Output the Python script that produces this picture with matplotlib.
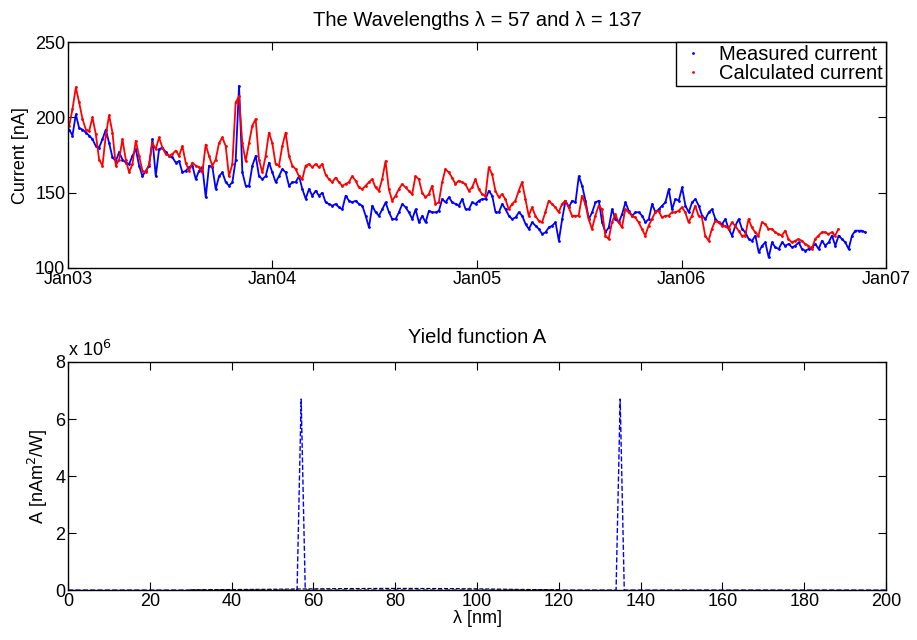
import numpy as np
import pandas as pd
import matplotlib
matplotlib.use("Agg")
import matplotlib.pyplot as plt
import matplotlib.dates as mdates
from matplotlib.ticker import FuncFormatter

plt.rcParams['font.family'] = ['Liberation Sans', 'DejaVu Sans']

# Measured current [nA], roughly every 6 days from early Jan 2003
measured = [
    192, 188, 202, 193, 192, 190, 188, 185.6, 181, 180, 185.6, 192, 183, 173.5, 171, 177, 172,
    170, 169, 174.5, 179, 168, 161, 164.6, 168, 185.6, 161, 179, 180, 177, 174.5, 173.5, 170,
    171, 163.5, 164.6, 167, 168, 159, 164.6, 167, 147, 168, 167, 152.4, 161, 163.5, 157, 154.6,
    157, 172, 221, 163.5, 154.6, 154.6, 168, 174.5, 161, 159, 161, 170, 163.5, 157, 161, 165.7,
    163.5, 154.6, 157, 157, 161, 152.4, 146, 152.4, 148, 151.3, 148, 150, 143.6, 142.5, 141.4,
    142.5, 140.3, 139, 148, 144.7, 143.6, 144.7, 142.5, 141.4, 134.7, 127, 141.4, 137, 134.7,
    139, 143.6, 137, 132.5, 132.5,
    137, 142.5, 140.3, 137, 132.5, 139, 130.3, 134.7, 130.3, 138, 137, 137, 138, 145.8, 143.6,
    147, 143.6, 142.5, 141.4, 145.8, 139, 139, 143.6, 142.5, 144.7, 145.8, 145.8, 151.3, 148,
    137, 137, 142.5, 139, 134.7, 132.5, 133.6, 137, 134.7, 129.2, 125.9, 130.3, 128.1, 125.9,
    122.6, 123.7, 127, 128.1, 130.3, 118.1,
    132.5, 144.7, 140.3, 144.7, 143.6, 161, 154.6, 144.7, 132.5, 137, 143.6, 144.7, 130.3,
    123.7, 127, 139, 132.5, 130.3, 135.8, 143.6, 138, 134.7, 137, 137, 134.7, 130.3, 132.5,
    142.5, 137, 139, 141.4, 143.6, 152.4, 139, 145.8, 144.7, 153.5, 141.4, 137, 143.6, 145.8,
    141.4, 134.7, 132.5, 137, 139, 132.5, 130.3, 129.2,
    132.5, 125.9, 121.5, 128.1, 132.5, 125.9, 123.7, 119.2, 118.1, 121.5, 110.4, 114.8, 117,
    107, 117, 113.7, 112.6, 117, 114.8, 116, 113.7, 114.8, 117, 112.6, 111.5, 112.6, 113.7,
    116, 112.6, 118.1, 114.8, 117, 121.5, 114.8, 121.5, 119.2, 117, 112.6, 121.5, 124.8,
    124.8, 124.8, 123.7,
]

# Calculated current [nA]
calculated = [
    194.5, 205.5, 220, 210, 199, 192, 191, 200, 189, 172, 168, 188, 201.5, 190, 168, 172,
    185.6, 172, 163.5, 169, 184.5, 174.5, 164.6, 163.5, 169, 183, 179, 186.7, 180, 175.7,
    174.5, 175.7, 178, 174.5, 181, 170, 164.6, 170, 168, 167, 163.5, 182, 174.5, 168, 172,
    183, 186.7, 181, 161,
    169, 210, 214, 183, 171, 183, 194.5, 199, 172, 163.5, 174.5, 190, 183, 169, 168, 181, 190,
    174.5, 168, 165.7, 161, 159, 168, 169, 167, 169, 167, 169, 162, 159, 157, 160, 157, 154.6,
    155.8, 157, 161, 158, 153.5, 152.4, 154.6, 157, 159, 153.5, 151.3, 159, 171, 152.4, 144.7,
    148,
    152.4, 155.8, 153.5, 151.3, 149, 161, 159, 150, 147, 149, 154.6, 142.5, 143.6, 157, 165.7,
    163.5, 160, 155.8, 158, 157, 155.8, 151.3, 153.5, 159, 152.4, 149, 148, 166.8, 162.4,
    151.3, 147, 149, 145.8, 139, 142.5, 144.7, 151.3, 157, 145.8, 134.7, 140.3, 134.7, 131.4,
    130.3, 137, 144.7, 142.5, 140.3, 137,
    142.5, 144.7, 140.3, 134.7, 134.7, 134.7, 148, 142.5, 132.5, 125.9, 134.7, 141.4, 139,
    121.5, 119.2, 130.3, 135.8, 130.3, 127, 139, 137, 134.7, 133.6, 130.3, 125.9, 121.5,
    128.1, 132.5, 137, 138, 133.6, 134.7, 134.7, 137, 137, 138, 140.3, 137, 130.3, 134.7,
    141.4, 134.7, 133.6, 121.5, 118.1, 125.9, 131.4, 130.3, 128.1,
    128.1, 125.9, 130.3, 128.1, 124.8, 121.5, 121.5, 132.5, 127, 123.7, 121.5, 130.3, 129.2,
    125.9, 125.9, 123.7, 122.6, 121.5, 124.8, 119.2, 117, 118.1, 119.2, 118.1, 116, 114.8,
    112.6, 119.2, 121.5, 123.7, 123.7, 122.6, 123.7, 121.5, 125.9,
]

start = pd.Timestamp('2003-01-03')
meas_dates = start + pd.to_timedelta(np.linspace(0, 1422, len(measured)), unit='D')
calc_dates = start + pd.to_timedelta(np.linspace(0, 1374, len(calculated)), unit='D')

# Yield function A [nAm^2/W] vs wavelength
wl_blue = [0, 56, 57, 58, 134, 135, 136, 200]
A_blue = [0, 0, 6.7e6, 0, 0, 6.7e6, 0, 0]
wl_black = [30, 40, 50, 60, 70, 80, 90, 100, 110, 120]
A_black = [0.01e6, 0.02e6, 0.03e6, 0.045e6, 0.055e6, 0.06e6, 0.055e6, 0.045e6, 0.025e6, 0.01e6]

fig = plt.figure(figsize=(9.17, 6.4), dpi=100)
ax1 = fig.add_axes([0.0742, 0.58125, 0.892, 0.3528])
ax2 = fig.add_axes([0.0742, 0.078, 0.892, 0.3564])

ax1.plot(meas_dates, measured, '.-', color='blue', ms=2.0, lw=1.3, label='Measured current')
ax1.plot(calc_dates, calculated, '.-', color='red', ms=2.0, lw=1.3, label='Calculated current')
ax1.set_xlim(pd.Timestamp('2003-01-01'), pd.Timestamp('2007-01-01'))
ax1.set_ylim(100, 250)
ax1.set_yticks([100, 150, 200, 250])
ax1.xaxis.set_major_locator(mdates.YearLocator())
ax1.xaxis.set_major_formatter(mdates.DateFormatter('%b%y'))
ax1.set_ylabel('Current [nA]', fontsize=13)
ax1.set_title('The Wavelengths λ = 57 and λ = 137', fontsize=14.5, pad=12)
leg = ax1.legend(loc='upper right', fontsize=14.5, borderaxespad=0.0, fancybox=False,
                 framealpha=1, edgecolor='black', handlelength=1.4, markerscale=1.0,
                 borderpad=0.15, labelspacing=0.0, handletextpad=0.6)
leg.get_frame().set_linewidth(1.0)
for h in leg.legend_handles:
    h.set_linestyle('none')

ax2.plot(wl_blue, A_blue, '--', color='blue', lw=1.0)
ax2.plot(wl_black, A_black, '--', color='black', lw=0.8)
ax2.set_xlim(0, 200)
ax2.set_ylim(0, 8e6)
ax2.set_xticks(np.arange(0, 201, 20))
ax2.set_yticks([0, 2e6, 4e6, 6e6, 8e6])
ax2.yaxis.set_major_formatter(FuncFormatter(lambda v, p: f'{v / 1e6:g}'))
ax2.text(0.0, 1.01, 'x 10$^6$', transform=ax2.transAxes, fontsize=13, va='bottom')
ax2.set_title('Yield function A', fontsize=14.5, pad=14)
ax2.set_ylabel('A [nAm$^2$/W]', fontsize=13)
ax2.set_xlabel('λ [nm]', fontsize=13, labelpad=0)

for ax in (ax1, ax2):
    ax.tick_params(direction='in', top=True, right=True, labelsize=13, length=6, pad=2)
    for s in ax.spines.values():
        s.set_linewidth(1.0)

fig.savefig('out.png', dpi=100)
